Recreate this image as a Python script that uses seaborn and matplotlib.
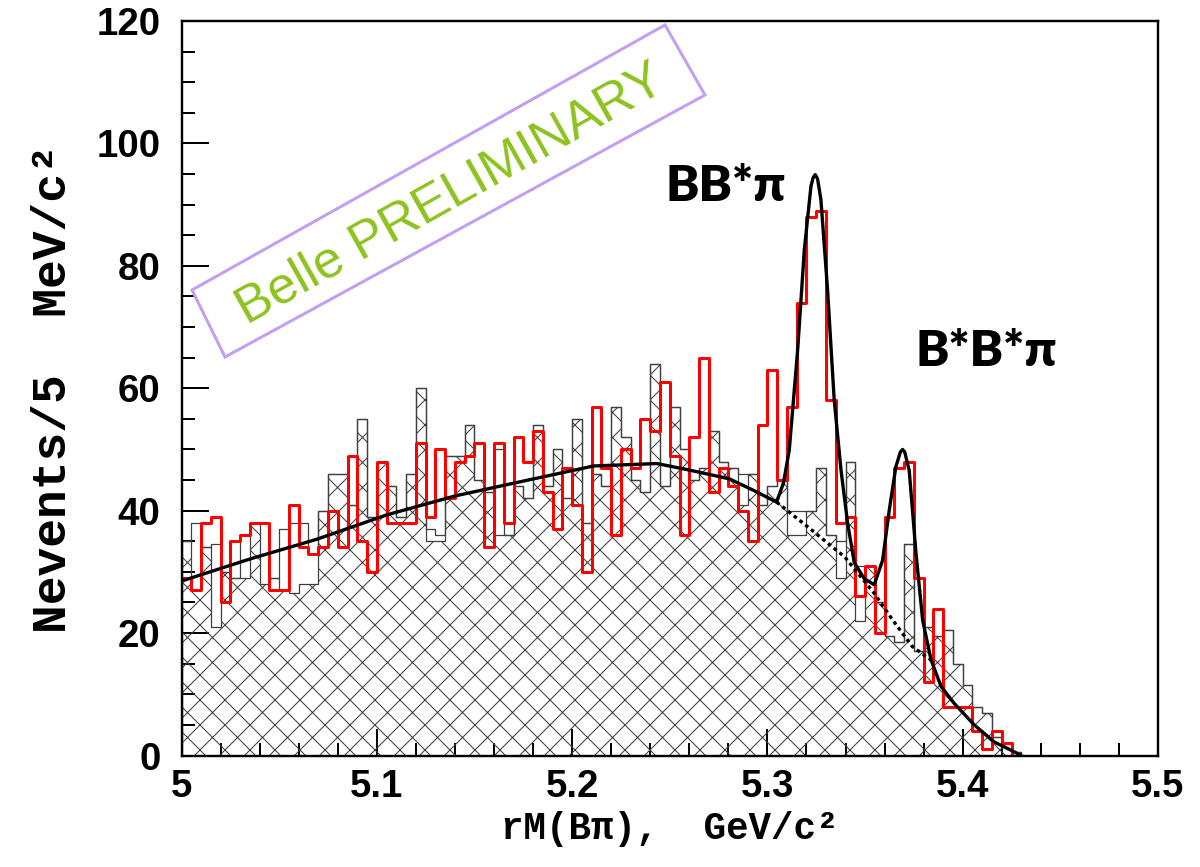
import numpy as np
import pandas as pd
import matplotlib
matplotlib.use("Agg")
import matplotlib.pyplot as plt
import seaborn as sns
from matplotlib.patches import Polygon
from matplotlib.ticker import MultipleLocator

# ---------------- data ----------------
bin_low = 5.0
bin_high = 5.5
n_bins = 100

red_counts = [29, 27, 38, 39, 25, 35, 36, 38, 38, 27, 27, 41, 34, 33,
              34, 40, 34, 49, 35, 30, 48, 38, 38, 38, 51, 39, 50, 42,
              48, 49, 51, 34, 51, 38, 52, 48, 53, 43, 37, 47, 41, 30,
              57, 47, 36, 50, 47, 55, 53, 61, 49, 36, 52, 65, 43, 47,
              44, 40, 35, 54, 63, 45, 57, 74, 88, 89, 58, 38, 39, 26,
              31, 20, 39, 47, 48, 29, 12, 24, 8, 8, 8, 4, 1, 4, 2, 0, 0,
              0, 0, 0, 0, 0, 0, 0, 0, 0, 0, 0, 0, 0]

grey_counts = [35, 38, 34, 34.5, 30, 29, 36, 38, 38, 29, 37, 38, 38, 33,
               40, 46, 46, 41, 55, 39, 48, 44, 39, 46, 60, 37, 36, 49,
               49, 54, 45, 43, 50, 36, 44, 42, 54, 44, 50, 42, 55, 38,
               46, 44, 57, 52, 45, 43, 64, 44, 57, 50, 45, 47, 53, 48,
               47, 46, 46, 41, 44, 45, 40, 40, 40, 47, 36, 35, 48, 31,
               31, 25, 19.5, 18.5, 34.5, 17, 21, 19.5, 20.5, 15, 11.5, 8, 7, 3, 2, 0.5, 0,
               0, 0, 0, 0, 0, 0, 0, 0, 0, 0, 0, 0, 0]

hatch_counts = [35, 27, 34, 21, 30, 29, 29, 38, 28, 29, 27, 26.5, 28, 28,
                40, 46, 46, 41, 55, 39, 48, 44, 39, 46, 60, 35, 35, 49,
                49, 54, 45, 43, 36, 36, 44, 42, 54, 44, 50, 42, 55, 38,
                46, 44, 57, 52, 45, 43, 64, 44, 57, 50, 45, 47, 53, 48,
                47, 41, 46, 41, 44, 45, 36, 36, 40, 47, 36, 29, 48, 22,
                31, 25, 19.5, 18.5, 34.5, 17, 21, 19.5, 20.5, 15, 11.5, 8, 7, 3, 2, 0.5, 0,
                0, 0, 0, 0, 0, 0, 0, 0, 0, 0, 0, 0, 0]

fit_x = [5.000, 5.035, 5.069, 5.105, 5.140, 5.176, 5.211, 5.2435, 5.2605, 5.2805,
         5.293, 5.3047, 5.3082, 5.3112, 5.3155, 5.3189, 5.3223, 5.3234, 5.3245,
         5.3257, 5.3274, 5.3308, 5.3342, 5.3377, 5.3411, 5.3445, 5.3496, 5.3547,
         5.359, 5.3624, 5.3658, 5.3681, 5.3692, 5.3703, 5.3726, 5.3761, 5.3795,
         5.3838, 5.3889, 5.3957, 5.4059, 5.4162, 5.4264, 5.430]
fit_y = [28.5, 32.1, 35.3, 39.3, 42.4, 44.9, 47.3, 47.7, 46.6, 45.2,
         43.3, 41.4, 44.5, 49.9, 66.3, 82.6, 93.0, 94.4, 94.9,
         94.2, 90.8, 76.1, 58.1, 46.6, 37.9, 31.5, 28.9, 27.9,
         31.9, 40.1, 47.2, 49.6, 50.0, 49.6, 46.6, 33.0, 22.1,
         15.6, 11.3, 8.5, 5.0, 2.2, 0.6, 0.0]

bkg_x = [5.3047, 5.3209, 5.3397, 5.3547, 5.3642, 5.3742, 5.3838]
bkg_y = [41.4, 37.3, 32.4, 26.5, 22.1, 17.8, 15.6]

x_ticks = [5.0, 5.1, 5.2, 5.3, 5.4, 5.5]
x_tick_labels = ["5", "5.1", "5.2", "5.3", "5.4", "5.5"]
y_ticks = [0, 20, 40, 60, 80, 100, 120]
y_tick_labels = ["0", "20", "40", "60", "80", "100", "120"]

# ---------------- style ----------------
sns.set_theme(style="white")
plt.rcParams['font.family'] = ['Liberation Sans', 'DejaVu Sans']
plt.rcParams['hatch.linewidth'] = 1.0
plt.rcParams['hatch.color'] = '#3a3a3a'
plt.rcParams['text.color'] = 'black'
plt.rcParams['axes.labelcolor'] = 'black'

DPI = 75
W, H = 1200, 867
fig = plt.figure(figsize=(W / DPI, H / DPI), dpi=DPI)
fig.patch.set_facecolor("white")
x0, x1, ytop, ybot = 181.5, 1158, 21, 755.5
ax = fig.add_axes([x0 / W, (H - ybot) / H, (x1 - x0) / W, (ybot - ytop) / H])
ax.set_facecolor("white")

step = (bin_high - bin_low) / n_bins
centers = bin_low + step * (np.arange(n_bins) + 0.5)
df = pd.DataFrame({"mass": centers, "red": red_counts,
                   "grey": grey_counts, "hatch": hatch_counts})

grey = "#3f3f3f"
hist_kw = dict(data=df, x="mass", bins=n_bins, binrange=(bin_low, bin_high),
               element="step", ax=ax)
sns.histplot(weights="hatch", fill=True, color=grey, facecolor="none",
             edgecolor=grey, linewidth=1.2, hatch="x", zorder=1, **hist_kw)
sns.histplot(weights="grey", fill=False, color=grey, linewidth=1.2,
             zorder=2, **hist_kw)
sns.histplot(weights="red", fill=False, color="#ff0000", linewidth=2.9,
             zorder=3, **hist_kw)

sns.lineplot(x=fit_x, y=fit_y, color="black", linewidth=3.2, ax=ax,
             sort=False, estimator=None, zorder=5)
sns.lineplot(x=bkg_x, y=bkg_y, color="black", linewidth=3.2, ax=ax,
             sort=False, estimator=None, zorder=4, linestyle=(0, (1.1, 1.1)))

ax.set_xlim(bin_low, bin_high)
ax.set_ylim(0, 120)

# ticks
ax.set_xticks(x_ticks)
ax.set_xticklabels(x_tick_labels, fontweight="bold")
ax.set_yticks(y_ticks)
ax.set_yticklabels(y_tick_labels, fontweight="bold")
ax.xaxis.set_minor_locator(MultipleLocator(0.02))
ax.yaxis.set_minor_locator(MultipleLocator(5))
ax.tick_params(which="both", direction="in", bottom=True, left=True,
               top=False, right=False, colors="black", labelcolor="black")
ax.tick_params(which="major", length=26, width=1.9, labelsize=37)
ax.tick_params(which="minor", length=12.5, width=1.9)
ax.tick_params(axis="y", which="major", pad=20)
ax.tick_params(axis="x", which="major", pad=13)

for s in ax.spines.values():
    s.set_color("black")
    s.set_linewidth(2.3)
    s.set_zorder(6)

mono = ['Liberation Mono', 'DejaVu Sans Mono']
ax.set_xlabel("rM(B\u03c0),  GeV/c\u00b2", family=mono, fontweight="bold",
              fontsize=36, labelpad=6, color="black")
ax.set_ylabel("Nevents/5  MeV/c\u00b2", family=mono, fontweight="bold",
              fontsize=46, labelpad=20, color="black")

# peak labels
lab_font = ['Lato', 'DejaVu Sans']
ax.text(5.2476, 90.6, "BB*\u03c0", family=lab_font, fontweight="heavy",
        fontsize=48, color="black", ha="left", va="baseline", zorder=7)
ax.text(5.3756, 63.6, "B*B*\u03c0", family=lab_font, fontweight="heavy",
        fontsize=48, color="black", ha="left", va="baseline", zorder=7)

# Belle PRELIMINARY stamp (figure pixel frame)
corners = [(192, 290), (225, 357), (705, 95), (665, 25)]
poly = Polygon([(cx / W, 1 - cy / H) for cx, cy in corners], closed=True,
               transform=fig.transFigure, fill=False, edgecolor="#c29ff3",
               linewidth=2.9, zorder=8)
fig.patches.append(poly)
fig.text(450 / W, 1 - 195 / H, "Belle PRELIMINARY", color="#8dc21f",
         fontsize=50, rotation=29.3, rotation_mode="anchor",
         ha="center", va="center", family=['Liberation Sans', 'DejaVu Sans'])

fig.savefig("out.png", dpi=DPI, facecolor="white")
